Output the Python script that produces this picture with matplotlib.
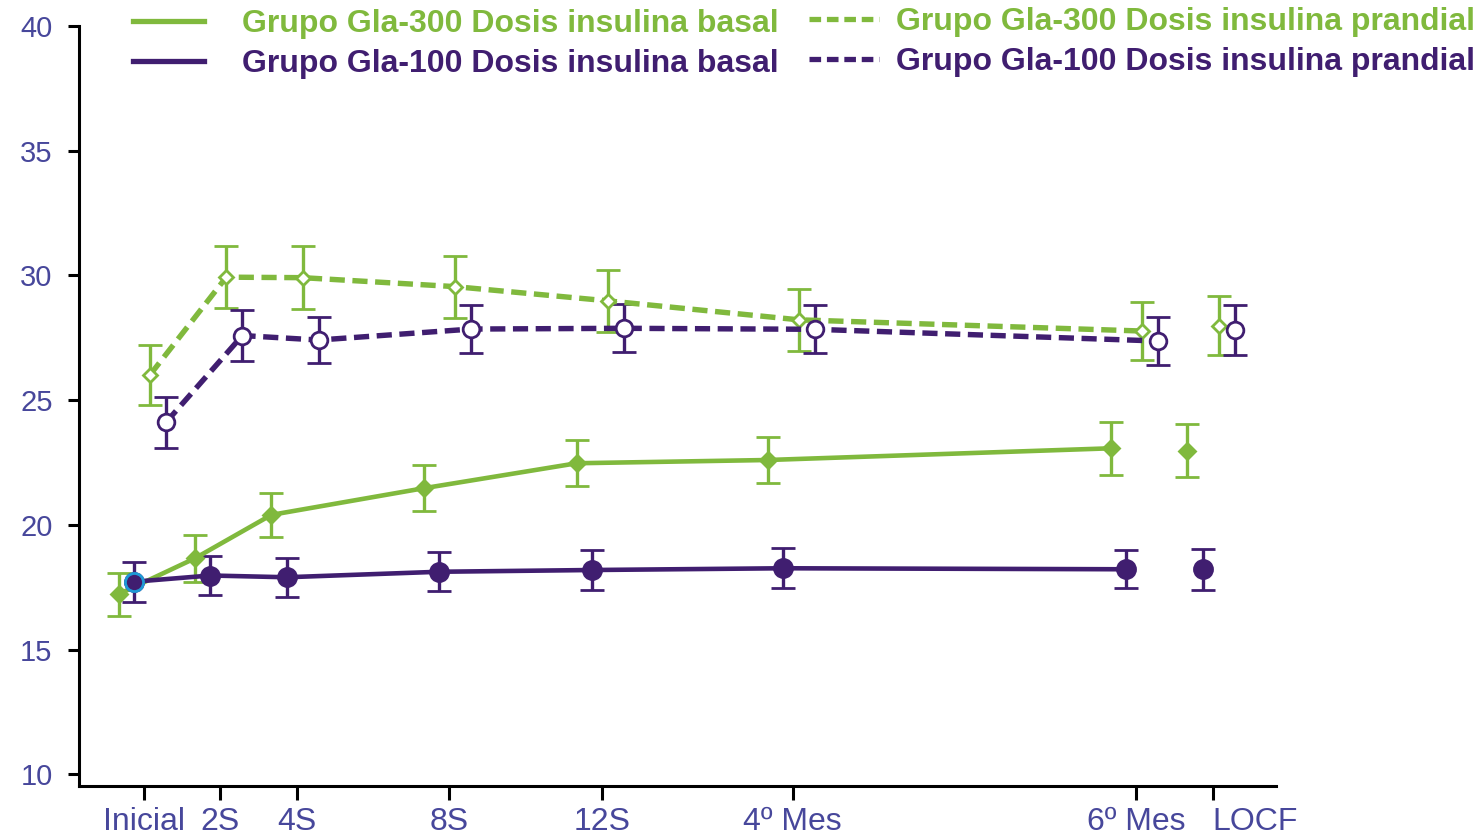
import matplotlib
matplotlib.use("Agg")
import matplotlib.pyplot as plt
from matplotlib.lines import Line2D

plt.rcParams['font.family'] = ['Liberation Sans', 'DejaVu Sans']

# visit positions (weeks) and labels
weeks = [0, 2, 4, 8, 12, 17, 26]
locf_week = 28
tick_pos = [0, 2, 4, 8, 12, 17, 26, 28]
tick_labels = ["Inicial", "2S", "4S", "8S", "12S", "4º Mes", "6º Mes", "LOCF"]

# Gla-300 basal
g300_basal = [17.22, 18.66, 20.40, 21.47, 22.47, 22.60, 23.07]
g300_basal_err = [0.87, 0.94, 0.87, 0.93, 0.93, 0.93, 1.06]
g300_basal_locf, g300_basal_locf_err = 22.97, 1.07

# Gla-100 basal
g100_basal = [17.72, 17.97, 17.90, 18.12, 18.19, 18.26, 18.22]
g100_basal_err = [0.80, 0.78, 0.79, 0.79, 0.81, 0.81, 0.76]
g100_basal_locf, g100_basal_locf_err = 18.22, 0.82

# Gla-300 prandial
g300_pran = [26.01, 29.93, 29.91, 29.55, 28.98, 28.22, 27.77]
g300_pran_err = [1.19, 1.25, 1.25, 1.24, 1.25, 1.25, 1.18]
g300_pran_locf, g300_pran_locf_err = 27.99, 1.18

# Gla-100 prandial
g100_pran = [24.11, 27.59, 27.41, 27.85, 27.88, 27.84, 27.37]
g100_pran_err = [1.02, 1.02, 0.92, 0.96, 0.96, 0.96, 0.98]
g100_pran_locf, g100_pran_locf_err = 27.81, 0.99

green = "#80b93d"
purple = "#401e70"
tickcol = "#47479b"

fig = plt.figure(figsize=(14.84, 8.38), dpi=100)
ax = fig.add_axes([0.0532, 0.0624, 0.8066, 0.9066])

eb = dict(elinewidth=2.4, capsize=8.6, capthick=2.6)


def series(vals, errs, locf, locf_err, shift, color, ls, marker, ms, mfc, lw, dashes=None):
    xs = [w + shift for w in weeks]
    line, caps, bars = ax.errorbar(xs, vals, yerr=errs, color=color, ecolor=color, lw=lw,
                                   marker=marker, ms=ms, mfc=mfc, mec=color, mew=2.0,
                                   ls=ls, **eb)
    if dashes:
        line.set_dashes(dashes)
    ax.errorbar([locf_week + shift], [locf], yerr=[locf_err], color=color, ecolor=color,
                marker=marker, ms=ms, mfc=mfc, mec=color, mew=2.0, ls="none", **eb)


series(g300_basal, g300_basal_err, g300_basal_locf, g300_basal_locf_err, -0.66,
       green, "-", "D", 8.5, green, 3.3)
series(g300_pran, g300_pran_err, g300_pran_locf, g300_pran_locf_err, 0.16,
       green, "--", "D", 7.5, "white", 3.9, dashes=(2.8, 1.4))
series(g100_basal, g100_basal_err, g100_basal_locf, g100_basal_locf_err, -0.26,
       purple, "-", "o", 13, purple, 3.3)
series(g100_pran, g100_pran_err, g100_pran_locf, g100_pran_locf_err, 0.58,
       purple, "--", "o", 12, "white", 3.9, dashes=(2.8, 1.4))
# baseline point highlighted with a blue rim
ax.plot([weeks[0] - 0.26], [g100_basal[0]], marker="o", ms=13, mfc=purple,
        mec="#1e9ad6", mew=2.0, ls="none", zorder=5)

ax.set_xlim(-1.70, 29.66)
ax.set_ylim(9.543, 40)
ax.set_yticks(range(10, 41, 5))
ax.set_xticks(tick_pos)
ax.set_xticklabels(tick_labels)
ax.spines[["top", "right"]].set_visible(False)
for s in ["left", "bottom"]:
    ax.spines[s].set_linewidth(2.2)
ax.tick_params(axis="y", length=8, width=2.2, labelsize=21, labelcolor=tickcol, pad=11)
ax.tick_params(axis="x", length=10, width=2.2, labelsize=23, labelcolor=tickcol, pad=5)
for lab in ax.get_xticklabels():
    if lab.get_text() == "LOCF":
        lab.set_horizontalalignment("left")
        lab.set_x(locf_week - 0.1)

legend_font = {"weight": "bold", "size": 23}
basal_handles = [Line2D([], [], color=green, lw=3.8), Line2D([], [], color=purple, lw=3.8)]
pran_handles = [Line2D([], [], color=green, lw=3.8, ls=(0, (2.2, 1.1))),
                Line2D([], [], color=purple, lw=3.8, ls=(0, (2.2, 1.1)))]
basal_labels = ["Grupo Gla-300 Dosis insulina basal", "Grupo Gla-100 Dosis insulina basal"]
pran_labels = ["Grupo Gla-300 Dosis insulina prandial", "Grupo Gla-100 Dosis insulina prandial"]

fig.legend(basal_handles, basal_labels, loc="upper left", bbox_to_anchor=(0.077, 1.012),
           frameon=False, borderaxespad=0.2, handlelength=2.2, handletextpad=1.2,
           labelspacing=0.3, labelcolor="linecolor", prop=legend_font)
fig.legend(pran_handles, pran_labels, loc="upper left", bbox_to_anchor=(0.532, 1.014),
           frameon=False, borderaxespad=0.2, handlelength=2.2, handletextpad=0.53,
           labelspacing=0.3, labelcolor="linecolor", prop=legend_font)

fig.savefig("out.png", dpi=100)
